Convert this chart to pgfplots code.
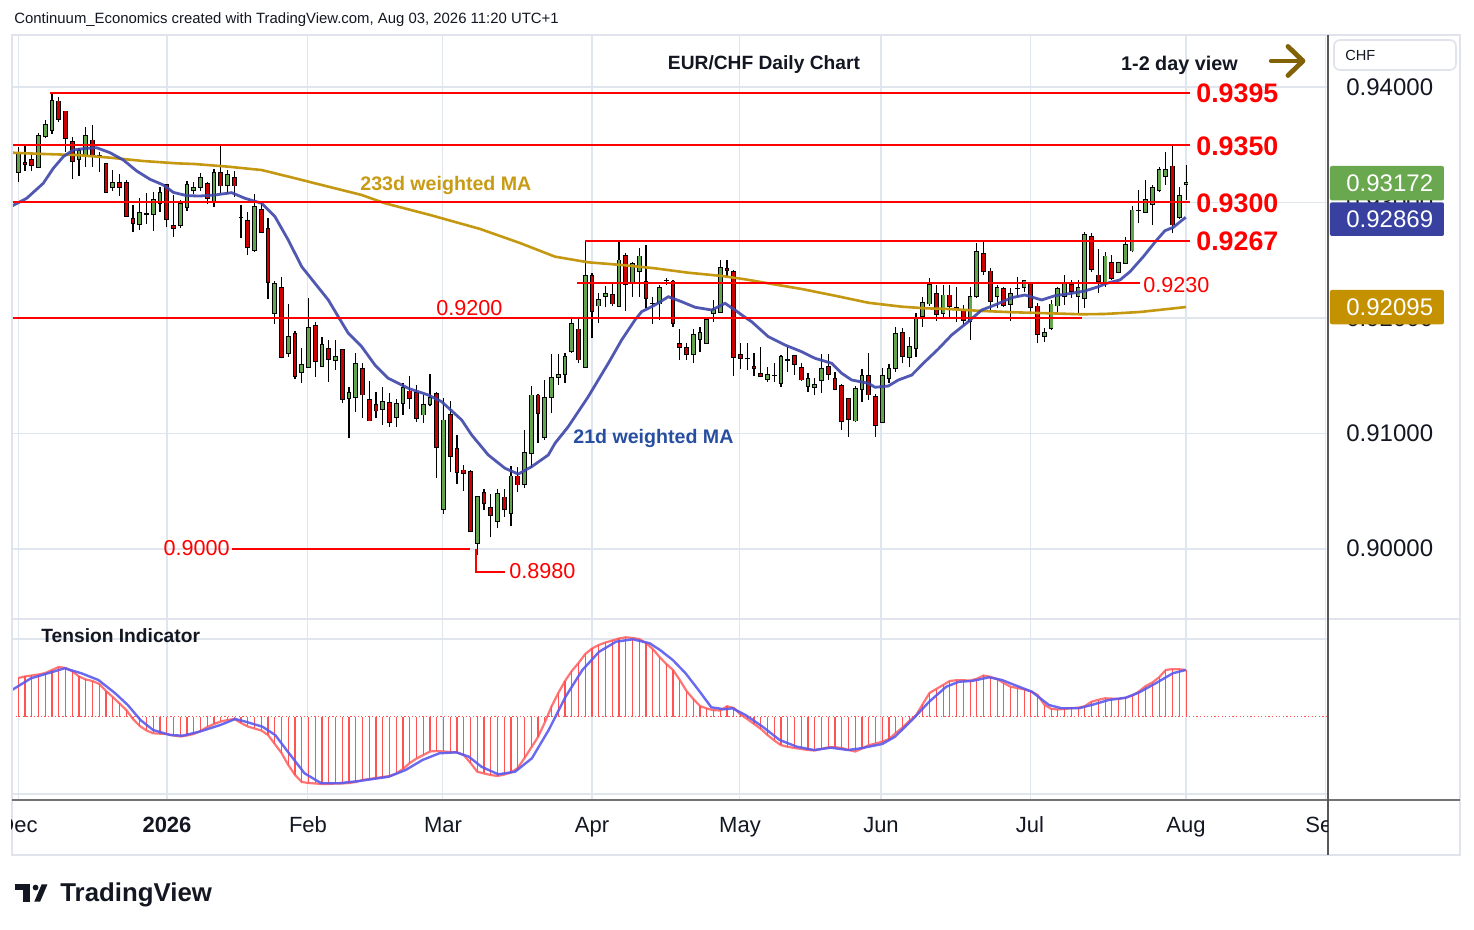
\documentclass[border=0pt]{standalone}
\usepackage{fontspec}
\setmainfont{Liberation Sans}
\usepackage{pgfplots}
\usepackage{pgfplotstable}
\pgfplotsset{compat=1.18}
\definecolor{cgreen}{RGB}{98,165,78}
\definecolor{cred}{RGB}{204,0,0}
\definecolor{lvl}{RGB}{255,0,0}
\definecolor{magold}{RGB}{196,152,16}
\definecolor{mablue}{RGB}{62,70,170}
\definecolor{gridc}{RGB}{224,230,238}
\definecolor{framec}{RGB}{224,227,235}
\definecolor{txt}{RGB}{19,23,34}
\definecolor{tagG}{RGB}{106,168,79}
\definecolor{tagB}{RGB}{56,64,160}
\definecolor{tagY}{RGB}{196,146,0}
\definecolor{indred}{RGB}{255,82,82}
\definecolor{indblue}{RGB}{90,90,240}
\definecolor{arrowc}{RGB}{130,98,6}
\definecolor{lblgold}{RGB}{200,155,20}
\definecolor{lblblue}{RGB}{40,78,160}
\newcommand{\fs}[1]{\fontsize{#1}{#1}\selectfont}

\pgfplotstableread{
x o h l c
0 0.93261 0.93483 0.93175 0.93426
1 0.93348 0.93489 0.93273 0.93331
2 0.93374 0.93426 0.93275 0.93322
3 0.93305 0.93604 0.93305 0.93578
4 0.93573 0.93714 0.93556 0.93677
5 0.93625 0.93945 0.93590 0.93887
6 0.93879 0.93916 0.93700 0.93720
7 0.93792 0.93792 0.93440 0.93556
8 0.93526 0.93565 0.93203 0.93357
9 0.93374 0.93469 0.93232 0.93448
10 0.93409 0.93651 0.93310 0.93582
11 0.93541 0.93671 0.93310 0.93405
12 0.93411 0.93440 0.93261 0.93405
13 0.93339 0.93345 0.93080 0.93085
14 0.93132 0.93279 0.93100 0.93175
15 0.93175 0.93244 0.93059 0.93132
16 0.93175 0.93195 0.92881 0.92881
17 0.92863 0.92978 0.92742 0.92820
18 0.92811 0.93036 0.92762 0.92915
19 0.92905 0.93080 0.92811 0.92900
20 0.92898 0.93088 0.92756 0.93028
21 0.92993 0.93137 0.92920 0.93088
22 0.93152 0.93152 0.92790 0.92855
23 0.92803 0.93065 0.92704 0.92777
24 0.92803 0.93022 0.92777 0.92993
25 0.92958 0.93189 0.92929 0.93158
26 0.93100 0.93180 0.93076 0.93132
27 0.93132 0.93253 0.93100 0.93218
28 0.93166 0.93180 0.92984 0.93036
29 0.93002 0.93287 0.92964 0.93261
30 0.93261 0.93498 0.93080 0.93143
31 0.93149 0.93281 0.93074 0.93244
32 0.93218 0.93275 0.93050 0.93143
33 0.92870 0.92978 0.92695 0.92866
34 0.92846 0.92915 0.92548 0.92609
35 0.92586 0.93071 0.92571 0.92967
36 0.92941 0.92993 0.92733 0.92742
37 0.92777 0.92863 0.92162 0.92309
38 0.92041 0.92323 0.91945 0.92300
39 0.92268 0.92355 0.91651 0.91656
40 0.91694 0.92121 0.91665 0.91842
41 0.91868 0.91890 0.91469 0.91492
42 0.91530 0.91738 0.91440 0.91599
43 0.91573 0.92171 0.91573 0.91919
44 0.91937 0.91963 0.91492 0.91622
45 0.91578 0.91838 0.91578 0.91772
46 0.91738 0.91810 0.91448 0.91642
47 0.91630 0.91810 0.91550 0.91668
48 0.91729 0.91735 0.91267 0.91296
49 0.91305 0.91400 0.90958 0.91357
50 0.91313 0.91694 0.91189 0.91608
51 0.91565 0.91608 0.91132 0.91333
52 0.91296 0.91455 0.91108 0.91108
53 0.91253 0.91362 0.91132 0.91195
54 0.91210 0.91405 0.91074 0.91275
55 0.91270 0.91348 0.91059 0.91097
56 0.91140 0.91296 0.91059 0.91261
57 0.91261 0.91440 0.91160 0.91400
58 0.91368 0.91498 0.91212 0.91305
59 0.91357 0.91420 0.91102 0.91132
60 0.91160 0.91333 0.91094 0.91255
61 0.91255 0.91515 0.91238 0.91313
62 0.91348 0.91355 0.90617 0.90881
63 0.90344 0.91305 0.90300 0.91117
64 0.91166 0.91281 0.90669 0.90799
65 0.90872 0.90987 0.90563 0.90664
66 0.90684 0.90727 0.90505 0.90655
67 0.90669 0.90680 0.90150 0.90150
68 0.90049 0.90453 0.89948 0.90453
69 0.90491 0.90519 0.90338 0.90390
70 0.90361 0.90476 0.90101 0.90292
71 0.90236 0.90517 0.90184 0.90482
72 0.90450 0.90517 0.90280 0.90344
73 0.90309 0.90719 0.90202 0.90632
74 0.90632 0.90707 0.90496 0.90554
75 0.90560 0.91030 0.90531 0.90837
76 0.90829 0.91414 0.90699 0.91333
77 0.91333 0.91342 0.90920 0.91175
78 0.90967 0.91463 0.90944 0.91313
79 0.91313 0.91686 0.91175 0.91487
80 0.91487 0.91686 0.91420 0.91507
81 0.91513 0.91694 0.91440 0.91665
82 0.91708 0.92006 0.91700 0.91954
83 0.91905 0.91997 0.91608 0.91636
84 0.91573 0.92669 0.91565 0.92364
85 0.92364 0.92392 0.91824 0.92055
86 0.92104 0.92214 0.91954 0.92164
87 0.92190 0.92277 0.92093 0.92214
88 0.92205 0.92309 0.92104 0.92121
89 0.92098 0.92661 0.92098 0.92502
90 0.92545 0.92560 0.92063 0.92286
91 0.92309 0.92487 0.92179 0.92474
92 0.92401 0.92603 0.92184 0.92537
93 0.92314 0.92632 0.92084 0.92171
94 0.92125 0.92184 0.91945 0.92121
95 0.92121 0.92286 0.91983 0.92266
96 0.92320 0.92349 0.92286 0.92326
97 0.92320 0.92329 0.91925 0.91954
98 0.91781 0.91902 0.91636 0.91746
99 0.91746 0.91781 0.91636 0.91680
100 0.91686 0.91902 0.91608 0.91859
101 0.91816 0.91925 0.91708 0.91873
102 0.91781 0.91990 0.91775 0.91983
103 0.92041 0.92156 0.91968 0.92075
104 0.92049 0.92502 0.92040 0.92439
105 0.92430 0.92502 0.92358 0.92410
106 0.92401 0.92416 0.91500 0.91660
107 0.91686 0.91781 0.91556 0.91651
108 0.91650 0.91781 0.91550 0.91646
109 0.91584 0.91694 0.91498 0.91565
110 0.91521 0.91751 0.91490 0.91492
111 0.91469 0.91573 0.91448 0.91513
112 0.91505 0.91608 0.91448 0.91503
113 0.91435 0.91680 0.91400 0.91665
114 0.91638 0.91751 0.91535 0.91634
115 0.91677 0.91680 0.91507 0.91599
116 0.91573 0.91608 0.91457 0.91463
117 0.91403 0.91521 0.91362 0.91478
118 0.91400 0.91478 0.91331 0.91426
119 0.91455 0.91688 0.91353 0.91565
120 0.91582 0.91688 0.91463 0.91513
121 0.91478 0.91535 0.91383 0.91383
122 0.91417 0.91426 0.91030 0.91100
123 0.91305 0.91310 0.90972 0.91123
124 0.91108 0.91411 0.91100 0.91391
125 0.91377 0.91558 0.91275 0.91500
126 0.91500 0.91694 0.91290 0.91333
127 0.91322 0.91339 0.90972 0.91071
128 0.91094 0.91565 0.91090 0.91500
129 0.91478 0.91602 0.91440 0.91565
130 0.91565 0.91919 0.91535 0.91868
131 0.91876 0.91911 0.91608 0.91665
132 0.91660 0.91833 0.91573 0.91755
133 0.91738 0.92046 0.91660 0.91997
134 0.92011 0.92184 0.91925 0.92136
135 0.92121 0.92344 0.92104 0.92286
136 0.92214 0.92286 0.91974 0.92032
137 0.92041 0.92286 0.91997 0.92199
138 0.92199 0.92286 0.92011 0.92098
139 0.92093 0.92271 0.91968 0.92078
140 0.92061 0.92113 0.91939 0.91977
141 0.91968 0.92271 0.91810 0.92190
142 0.92184 0.92647 0.92171 0.92574
143 0.92560 0.92669 0.92372 0.92401
144 0.92407 0.92436 0.92069 0.92141
145 0.92184 0.92286 0.92084 0.92268
146 0.92257 0.92271 0.92098 0.92107
147 0.92119 0.92257 0.91977 0.92214
148 0.92255 0.92352 0.92184 0.92259
149 0.92262 0.92329 0.92228 0.92326
150 0.92300 0.92305 0.92041 0.92093
151 0.92104 0.92127 0.91781 0.91859
152 0.91838 0.91911 0.91795 0.91876
153 0.91911 0.92156 0.91896 0.92121
154 0.92104 0.92271 0.92026 0.92257
155 0.92184 0.92372 0.92113 0.92294
156 0.92286 0.92329 0.92171 0.92228
157 0.92184 0.92329 0.92026 0.92268
158 0.92171 0.92747 0.92084 0.92719
159 0.92707 0.92733 0.92401 0.92416
160 0.92372 0.92597 0.92214 0.92314
161 0.92300 0.92574 0.92271 0.92537
162 0.92482 0.92545 0.92329 0.92344
163 0.92396 0.92487 0.92387 0.92482
164 0.92474 0.92699 0.92470 0.92638
165 0.92580 0.92970 0.92575 0.92935
166 0.92930 0.93108 0.92820 0.92935
167 0.92915 0.93195 0.92910 0.93028
168 0.92984 0.93152 0.92805 0.93132
169 0.93100 0.93310 0.93095 0.93287
170 0.93229 0.93440 0.93152 0.93287
171 0.93316 0.93489 0.92733 0.92805
172 0.92868 0.93137 0.92857 0.93059
173 0.93152 0.93325 0.93022 0.93172
}\candles

\pgfplotstableread{
x y
-0.93 0.92970
1.24 0.93036
3.70 0.93166
5.19 0.93296
6.67 0.93397
8.15 0.93455
10.13 0.93469
11.61 0.93474
13.59 0.93431
15.56 0.93368
17.54 0.93273
19.51 0.93201
21.48 0.93152
22.96 0.93088
24.95 0.93059
26.92 0.93056
29.14 0.93065
31.61 0.93085
33.59 0.93036
36.06 0.92993
38.03 0.92877
40.00 0.92675
41.99 0.92444
43.96 0.92300
45.93 0.92156
47.41 0.92011
48.89 0.91868
50.87 0.91752
52.84 0.91593
54.81 0.91478
57.78 0.91391
60.74 0.91333
62.73 0.91275
65.69 0.91117
67.17 0.90987
69.63 0.90814
72.10 0.90699
74.07 0.90649
76.06 0.90713
78.52 0.90814
79.51 0.90915
81.48 0.91059
84.44 0.91319
87.41 0.91608
89.39 0.91810
91.36 0.91983
92.36 0.92055
94.33 0.92113
96.30 0.92184
98.28 0.92141
100.25 0.92093
102.73 0.92069
104.70 0.92127
106.18 0.92069
107.66 0.92006
108.65 0.91968
111.11 0.91838
113.59 0.91766
116.06 0.91708
118.03 0.91651
120.50 0.91608
121.99 0.91521
123.47 0.91463
125.93 0.91435
126.92 0.91400
128.89 0.91411
130.37 0.91463
132.36 0.91506
134.33 0.91622
136.30 0.91732
138.28 0.91853
140.74 0.91968
142.73 0.92069
144.70 0.92113
147.17 0.92176
149.14 0.92199
151.61 0.92156
153.58 0.92193
156.06 0.92214
158.03 0.92234
160.00 0.92271
161.24 0.92300
163.21 0.92329
164.70 0.92401
166.67 0.92531
168.65 0.92675
169.88 0.92756
171.11 0.92785
172.95 0.92872
}\maShort

\pgfplotstableread{
x y
-0.93 0.93431
3.70 0.93420
8.65 0.93411
13.59 0.93388
18.52 0.93359
23.47 0.93339
26.18 0.93333
31.11 0.93310
36.06 0.93281
40.99 0.93210
45.93 0.93137
50.87 0.93065
54.33 0.92993
61.00 0.92892
68.40 0.92771
74.33 0.92649
79.51 0.92531
84.44 0.92482
89.39 0.92459
94.33 0.92430
99.26 0.92392
104.21 0.92364
107.66 0.92335
111.11 0.92300
116.06 0.92251
120.99 0.92193
125.93 0.92132
130.87 0.92098
134.33 0.92084
137.78 0.92078
142.73 0.92061
147.66 0.92049
152.59 0.92041
157.54 0.92032
161.00 0.92035
166.19 0.92052
173.00 0.92095
}\maLong

\pgfplotstableread{
x v
0 39
1 40.5
2 41.5
3 42.5
4 44
5 47
6 50
7 49
8 45.7
9 40.5
10 37.5
11 36
12 33
13 26
14 20
15 13.5
16 7
17 -2
18 -9
19 -13.5
20 -16.3
21 -16.7
22 -17
23 -18.5
24 -19.5
25 -18.5
26 -17
27 -14
28 -10
29 -7
30 -4.5
31 -3
32 -2
33 -6
34 -9.5
35 -11.5
36 -13.5
37 -18
38 -27
39 -36
40 -48
41 -58
42 -65
43 -66
44 -66.5
45 -67
46 -67
47 -66.5
48 -66.5
49 -66
50 -65
51 -63
52 -62
53 -61
54 -60
55 -59
56 -56.5
57 -52
58 -46
59 -41.5
60 -38
61 -34.5
62 -34
63 -34.5
64 -35
65 -35.5
66 -38
67 -46
68 -54.7
69 -56.5
70 -58
71 -59
72 -57.5
73 -55.5
74 -51
75 -41
76 -30.5
77 -20
78 -5.5
79 10.5
80 24
81 36
82 46
83 54
84 63
85 68.5
86 72
87 74.5
88 76.5
89 78.5
90 79.7
91 79
92 78
93 74
94 68
95 60
96 53
97 47
98 37
99 26
100 18
101 11
102 8.5
103 6.8
104 6.5
105 10.7
106 9
107 2.5
108 -2
109 -7
110 -11.8
111 -18
112 -23.5
113 -28.2
114 -29.8
115 -31
116 -32
117 -33
118 -33.5
119 -32
120 -30.3
121 -30.2
122 -31
123 -33
124 -34.5
125 -31.5
126 -28.2
127 -26.5
128 -24.7
129 -22
130 -16
131 -10.5
132 -4
133 1.7
134 13
135 24
136 28
137 32
138 36
139 36.8
140 36.8
141 36.4
142 38.2
143 41.5
144 40.2
145 37.9
146 34
147 30.3
148 29
149 27.6
150 25.7
151 22.2
152 12.4
153 8.2
154 7.5
155 8.1
156 8.8
157 9.3
158 10.8
159 15.3
160 17.2
161 18.7
162 18.4
163 18.1
164 19.2
165 21.3
166 25.4
167 30.8
168 34.4
169 39.7
170 47
171 47.9
172 47.7
173 47
}\tension

\pgfplotstableread{
x v
-0.93 27
1.88 38.7
4.39 43.7
6.87 48.7
9.36 43.7
11.87 37
14.36 23.7
16.22 12
18.10 -3
19.97 -13
22.47 -18
24.34 -18.7
26.83 -14.7
29.94 -8
32.13 -2
33.69 -4.7
36.18 -9.7
38.06 -18
39.93 -34.7
42.41 -56.3
44.90 -66.3
47.41 -66.3
50.52 -64
54.89 -59.7
57.38 -53
59.88 -43
62.37 -36.3
64.86 -35.3
66.74 -39.7
68.61 -49.7
71.10 -57.3
73.60 -54.7
76.09 -41.3
78.58 -13
81.08 20.3
83.57 47
86.06 65.3
88.56 75.3
91.05 77.7
93.54 73.7
95.07 67
96.96 57
98.86 43.7
100.77 27
102.67 9.7
104.56 7.7
105.82 8.7
107.73 2
110.27 -9.7
112.80 -23
115.33 -29.7
117.85 -33
120.39 -30.7
122.92 -33
124.83 -31.3
127.99 -27
129.88 -19.7
132.41 -3
134.95 15.3
137.48 30.3
139.38 35.3
141.29 36
143.82 39.7
145.72 37
147.61 32
150.15 25.3
152.68 12
154.58 8.7
157.11 8.7
159.01 12
161.54 17
164.07 19.3
165.97 24.3
168.50 33.7
171.04 43.7
172.93 47
}\tensionsig

\pgfplotsset{
  errbase/.style={draw=none, no marks, forget plot,
    error bars/.cd, y dir=plus, y explicit, error mark=none,
    error bar style={#1}},
}

\begin{document}
\begin{tikzpicture}
\useasboundingbox (0,0) rectangle (737bp,465bp);
\fill[white] (0,0) rectangle (737bp,465bp);

% ---------------- price pane ----------------
\begin{axis}[at={(6bp,156bp)}, anchor=south west, scale only axis,
  width=658bp, height=291.5bp,
  xmin=-0.93, xmax=194.03, ymin=0.894026, ymax=0.944502,
  axis line style={draw=none}, tick style={draw=none},
  xtick={0,22.03,42.9,62.9,85,106.9,127.8,149.9,173,193.6},
  ytick={0.90,0.91,0.92,0.93,0.94},
  xticklabels={}, yticklabels={}, scaled y ticks=false,
  grid=major, major grid style={draw=gridc, line width=0.6bp}]
% wicks
\addplot[errbase={draw=black, line width=0.55bp}]
  table[x=x, y=l, y error plus expr={\thisrow{h}-\thisrow{l}}] {\candles};
% body outlines
\addplot[errbase={draw=black, line width=2.4bp}]
  table[x=x, y expr={min(\thisrow{o},\thisrow{c})-0.00004},
        y error plus expr={abs(\thisrow{c}-\thisrow{o})+0.00008}] {\candles};
% green bodies
\addplot[restrict expr to domain={\thisrow{c}-\thisrow{o}}{0:1},
  errbase={draw=cgreen, line width=1.45bp}]
  table[x=x, y expr={\thisrow{o}+0.00004},
        y error plus expr={max(\thisrow{c}-\thisrow{o}-0.00008,0)}] {\candles};
% red bodies
\addplot[restrict expr to domain={\thisrow{o}-\thisrow{c}}{0.0000001:1},
  errbase={draw=cred, line width=1.45bp}]
  table[x=x, y expr={\thisrow{c}+0.00004},
        y error plus expr={max(\thisrow{o}-\thisrow{c}-0.00008,0)}] {\candles};
% moving averages
\addplot[magold, line width=1.3bp, forget plot] table[x=x,y=y] {\maLong};
\addplot[mablue, line width=1.4bp, opacity=0.9, forget plot] table[x=x,y=y] {\maShort};
% levels
\draw[lvl, line width=1bp] (4.7,0.9395) -- (173.6,0.9395);
\draw[lvl, line width=1bp] (-0.93,0.935) -- (173.6,0.935);
\draw[lvl, line width=1bp] (-0.93,0.930) -- (173.6,0.930);
\draw[lvl, line width=1bp] (84,0.9267) -- (173.6,0.9267);
\draw[lvl, line width=1bp] (82.7,0.923) -- (166.2,0.923);
\draw[lvl, line width=1bp] (-0.93,0.920) -- (157.6,0.920);
\draw[lvl, line width=1bp] (31.7,0.900) -- (66.9,0.900);
\draw[lvl, line width=1bp] (67.8,0.900) -- (67.8,0.898) -- (72.1,0.898);
\end{axis}

% ---------------- tension pane ----------------
\begin{axis}[at={(6bp,65bp)}, anchor=south west, scale only axis,
  width=658bp, height=90bp,
  xmin=-0.93, xmax=194.03, ymin=-83, ymax=97,
  axis line style={draw=none}, tick style={draw=none},
  xtick={0,22.03,42.9,62.9,85,106.9,127.8,149.9,173,193.6},
  ytick={78,-77},
  xticklabels={}, yticklabels={},
  grid=major, major grid style={draw=gridc, line width=0.6bp}]
\draw[indred, line width=0.5bp, dash pattern=on 0.6bp off 1.2bp] (-0.93,0) -- (194.03,0);
\addplot[ycomb, indred, line width=0.55bp, forget plot] table[x=x,y=v] {\tension};
\addplot[indred, line width=1.1bp, opacity=0.8, forget plot] table[x=x,y=v] {\tension};
\addplot[indblue, line width=1.2bp, opacity=0.9, forget plot] table[x=x,y=v] {\tensionsig};
\end{axis}

% ---------------- frame, labels (pixel units) ----------------
\begin{scope}[x=0.5bp, y=-0.5bp, shift={(0bp,465bp)}]
  \draw[framec, line width=0.8bp] (12,35) rectangle (1460,855);
  \draw[framec, line width=1bp] (12,619) -- (1460,619);
  \draw[black!55, line width=0.6bp] (12,800) -- (1460,800);
  \draw[black!65, line width=0.6bp] (1328,35) -- (1328,855);

  \begin{scope}
    \clip (12,801) rectangle (1327.5,854);
    \foreach \xx/\lab in {18/Dec,308/Feb,443/Mar,592/Apr,740/May,881/Jun,1030/Jul,1186/Aug,1325/Sep}
      \node[anchor=base, text=txt, font=\fs{11bp}, inner sep=0] at (\xx,832.5) {\lab};
    \node[anchor=base, text=txt, font=\bfseries\fs{11bp}, inner sep=0] at (167,832.5) {2026};
  \end{scope}

  \foreach \yy/\lab in {87/0.94000,202/0.93000,318/0.92000,433/0.91000,548/0.90000}
    \node[anchor=west, text=txt, font=\fs{12bp}, inner sep=0] at (1346,\yy) {\lab};
  \fill[tagG, rounded corners=1bp] (1330,166) rectangle (1444,200.5);
  \node[anchor=west, text=white, font=\fs{12bp}, inner sep=0] at (1346,183.3) {0.93172};
  \fill[tagB, rounded corners=1bp] (1330,202.3) rectangle (1444,236);
  \node[anchor=west, text=white, font=\fs{12bp}, inner sep=0] at (1346,219.2) {0.92869};
  \fill[tagY, rounded corners=1bp] (1330,290) rectangle (1444,324.3);
  \node[anchor=west, text=white, font=\fs{12bp}, inner sep=0] at (1346,307.2) {0.92095};
  \draw[framec, line width=0.8bp, rounded corners=3bp] (1334,40) rectangle (1456,70);
  \node[anchor=west, text=txt, font=\fs{7.3bp}, inner sep=0] at (1345,55) {CHF};

  \node[anchor=base west, text=txt, font=\fs{7.45bp}, inner sep=0] at (14,24) {Continuum\_Economics created with TradingView.com, Aug 03, 2026 11:20 UTC+1};
  \node[anchor=base, text=txt, font=\bfseries\fs{9.6bp}, inner sep=0] at (764,70) {EUR/CHF Daily Chart};
  \node[anchor=base, text=txt, font=\bfseries\fs{9.9bp}, inner sep=0] at (1179.5,70.5) {1-2 day view};
  \draw[arrowc, line width=2.1bp, line cap=round] (1271,61) -- (1301,61);
  \draw[arrowc, line width=2.4bp, line cap=round, line join=round] (1288,46.5) -- (1303,61) -- (1288,75.5);

  \foreach \yy/\lab in {93/0.9395,146/0.9350,203/0.9300,241/0.9267}
    \node[anchor=west, text=lvl, font=\bfseries\fs{13.4bp}, inner sep=0] at (1196,\yy) {\lab};
  \node[anchor=west, text=lvl, font=\fs{10.8bp}, inner sep=0] at (1143,285) {0.9230};
  \node[anchor=west, text=lvl, font=\fs{10.8bp}, inner sep=0] at (436,308) {0.9200};
  \node[anchor=east, text=lvl, font=\fs{10.8bp}, inner sep=0] at (230,548) {0.9000};
  \node[anchor=west, text=lvl, font=\fs{10.8bp}, inner sep=0] at (509,571) {0.8980};
  \node[anchor=base west, text=lblgold, font=\bfseries\fs{9.8bp}, inner sep=0] at (360,190.5) {233d weighted MA};
  \node[anchor=base west, text=lblblue, font=\bfseries\fs{9.8bp}, inner sep=0] at (573,443.5) {21d weighted MA};

  \node[anchor=base west, text=txt, font=\bfseries\fs{9.6bp}, inner sep=0] at (41,643) {Tension Indicator};

  \fill[txt] (15,884.3) rectangle (30,890);
  \fill[txt] (22.7,884.3) rectangle (30,901.7);
  \fill[txt] (35.6,887.6) circle (2.9);
  \fill[txt] (34.3,901.7) -- (41.7,884.3) -- (47.5,884.3) -- (40.1,901.7) -- cycle;
  \node[anchor=base west, text=txt, font=\bfseries\fs{12.9bp}, inner sep=0] at (60,901.5) {TradingView};
\end{scope}
\end{tikzpicture}
\end{document}
